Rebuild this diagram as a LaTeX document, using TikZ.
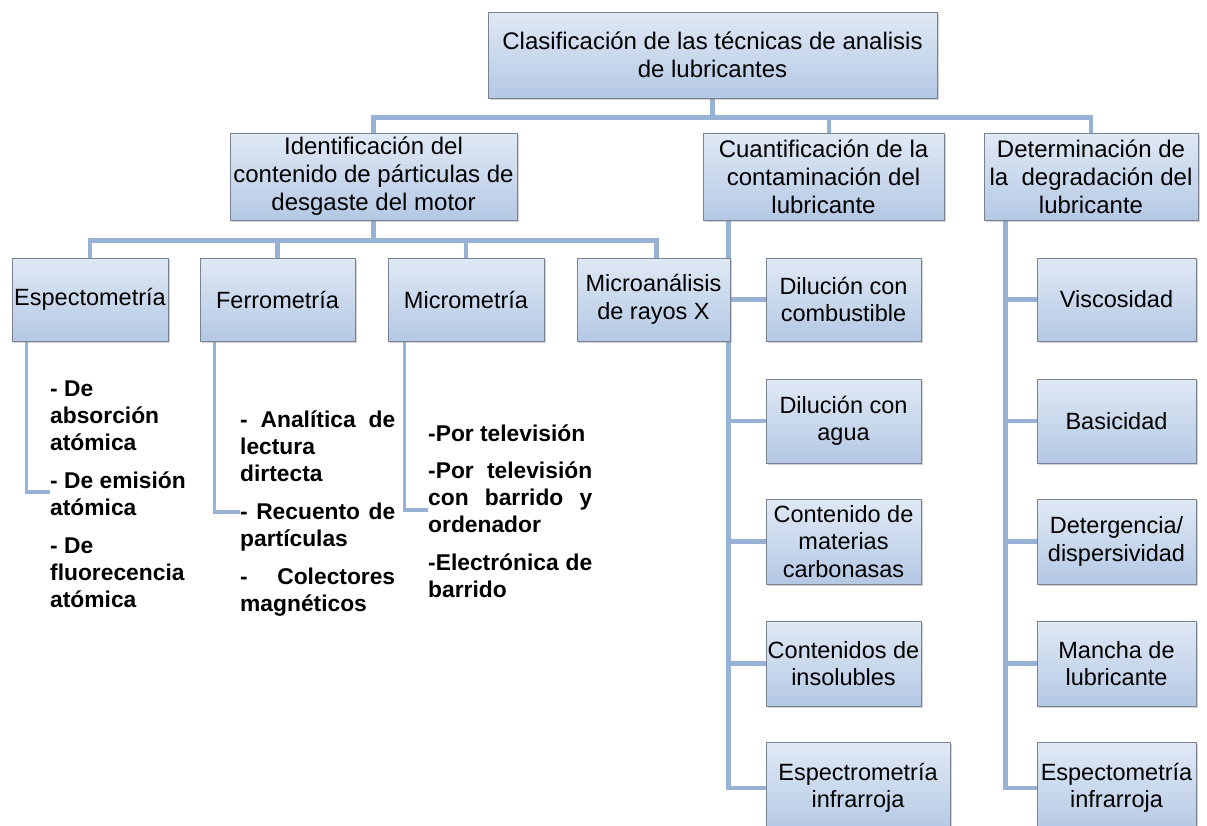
\documentclass[tikz,border=0pt]{standalone}
\usepackage{fontspec}
\setmainfont{Liberation Sans}
\usetikzlibrary{shadows}
\definecolor{boxtop}{RGB}{224,233,245}
\definecolor{boxbot}{RGB}{180,200,228}
\definecolor{boxline}{RGB}{120,130,148}
\definecolor{conncol}{RGB}{152,178,214}
\pgfdeclarelayer{bg}
\pgfsetlayers{bg,main}
\tikzset{
  box/.style={draw=boxline, line width=0.8pt, top color=boxtop, bottom color=boxbot,
    drop shadow={shadow xshift=2pt, shadow yshift=-2pt, opacity=0.35},
    align=center, inner sep=0pt, font=\fontsize{23.5}{27.5}\selectfont},
  bigbox/.style={box, font=\fontsize{24}{28}\selectfont},
  conn/.style={draw=conncol, line width=4.5pt},
  subconn/.style={draw=conncol, line width=3.5pt},
  listtext/.style={anchor=north west, inner sep=0pt, align=left,
    font=\fontsize{22.8}{27}\selectfont\bfseries},
}
\begin{document}
\begin{tikzpicture}[x=1pt,y=-1pt]
\useasboundingbox (0,0) rectangle (1207,825);
% level 0
\node[bigbox, minimum width=449pt, minimum height=86pt] (top) at (712.5,55) {Clasificación de las técnicas de analisis\\de lubricantes};
% level 1
\node[bigbox, minimum width=287pt, minimum height=87pt] (ident) at (373.5,176.5) {Identificación del\\contenido de párticulas de\\desgaste del motor};
\node[bigbox, minimum width=241pt, minimum height=87pt] (cuant) at (823.5,176.5) {Cuantificación de la\\contaminación del\\lubricante};
\node[bigbox, minimum width=214pt, minimum height=87pt] (det) at (1091,176.5) {Determinación de\\la\ \ degradación del\\lubricante};
% level 2 under ident
\node[box, minimum width=156pt, minimum height=83pt] (esp) at (90,299.5) {Espectometría};
\node[box, minimum width=155pt, minimum height=83pt] (fer) at (277.5,299.5) {Ferrometría};
\node[box, minimum width=156pt, minimum height=83pt] (mic) at (466,299.5) {Micrometría};
\node[box, minimum width=153pt, minimum height=83pt] (mx) at (653.5,299.5) {Microanálisis\\de rayos X};
% children of cuant
\node[box, minimum width=155pt, minimum height=83pt] (c1) at (843.5,299.5) {Dilución con\\combustible};
\node[box, minimum width=155pt, minimum height=84pt] (c2) at (843.5,421) {Dilución con\\agua};
\node[box, minimum width=155pt, minimum height=85pt] (c3) at (843.5,541.5) {Contenido de\\materias\\carbonasas};
\node[box, minimum width=155pt, minimum height=85pt] (c4) at (843.5,663.5) {Contenidos de\\insolubles};
\node[box, minimum width=184pt, minimum height=92pt] (c5) at (858,788) {Espectrometría\\infrarroja};
% children of det
\node[box, minimum width=159pt, minimum height=83pt] (d1) at (1116.5,299.5) {Viscosidad};
\node[box, minimum width=159pt, minimum height=84pt] (d2) at (1116.5,421) {Basicidad};
\node[box, minimum width=159pt, minimum height=85pt] (d3) at (1116.5,541.5) {Detergencia/\\dispersividad};
\node[box, minimum width=159pt, minimum height=85pt] (d4) at (1116.5,663.5) {Mancha de\\lubricante};
\node[box, minimum width=159pt, minimum height=92pt] (d5) at (1116.5,788) {Espectometría\\infrarroja};
% lists
\node[listtext] (espl) at (50,374) {\rule{0pt}{22pt}- De\\absorción\\atómica\\[11pt]- De emisión\\atómica\\[11pt]- De\\fluorecencia\\atómica};
\node[listtext] (ferl) at (240,405) {\rule{0pt}{22pt}\makebox[155pt][s]{- Analítica de}\\lectura\\dirtecta\\[11pt]\makebox[155pt][s]{- Recuento de}\\partículas\\[11pt]\makebox[155pt][s]{- \ Colectores}\\magnéticos};
\node[listtext] (micl) at (428,419) {\rule{0pt}{22pt}-Por televisión\\[10pt]\makebox[164pt][s]{-Por televisión}\\\makebox[164pt][s]{con barrido y}\\ordenador\\[11pt]\makebox[164pt][s]{-Electrónica de}\\barrido};
\coordinate (espe) at (50,492);
\coordinate (fere) at (240,512);
\coordinate (mice) at (428,510);
\begin{pgfonlayer}{bg}
  \draw[conn] (top.south) -- ++(0,19) -| (ident.north);
  \draw[conn] (top.south) -- ++(0,19) -| ([xshift=5.5pt]cuant.north);
  \draw[conn] (top.south) -- ++(0,19) -| (det.north);
  \draw[conn] (ident.south) -- ++(0,20) -| (esp.north);
  \draw[conn] (ident.south) -- ++(0,20) -| (fer.north);
  \draw[conn] (ident.south) -- ++(0,20) -| (mic.north);
  \draw[conn] (ident.south) -- ++(0,20) -| ([xshift=3pt]mx.north);
  \foreach \c in {c1,c2,c3,c4,c5}
    \draw[conn] ([xshift=26pt]cuant.south west) |- (\c.west);
  \foreach \d in {d1,d2,d3,d4,d5}
    \draw[conn] ([xshift=22pt]det.south west) |- (\d.west);
  \draw[subconn] ([xshift=15pt]esp.south west) |- (espe);
  \draw[subconn] ([xshift=15pt]fer.south west) |- (fere);
  \draw[subconn] ([xshift=17pt]mic.south west) |- (mice);
\end{pgfonlayer}
\end{tikzpicture}
\end{document}
